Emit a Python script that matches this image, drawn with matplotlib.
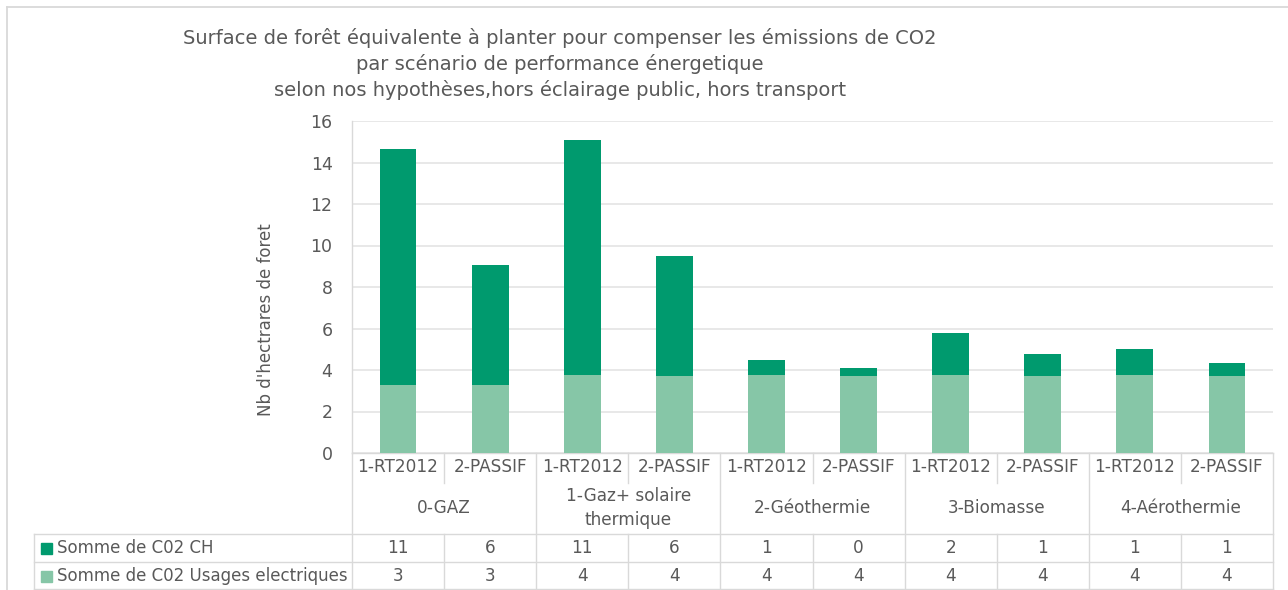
import matplotlib
matplotlib.use("Agg")
import matplotlib.pyplot as plt
from matplotlib.transforms import blended_transform_factory
from matplotlib.patches import Rectangle
from matplotlib.lines import Line2D

# ---- data -------------------------------------------------------------
groups = ["0-GAZ", "1-Gaz+ solaire\nthermique", "2-Géothermie", "3-Biomasse", "4-Aérothermie"]
scenarios = ["1-RT2012", "2-PASSIF"]
co2_ch = [11.38, 5.81, 11.35, 5.81, 0.75, 0.40, 2.04, 1.08, 1.27, 0.64]
co2_elec = [3.26, 3.26, 3.74, 3.69, 3.74, 3.69, 3.74, 3.69, 3.74, 3.69]
series_names = ["Somme de C02 CH", "Somme de C02 Usages electriques"]
y_ticks = [0, 2, 4, 6, 8, 10, 12, 14, 16]
y_label = "Nb d'hectrares de foret"
title_lines = [
    "Surface de forêt équivalente à planter pour compenser les émissions de CO2",
    "par scénario de performance énergetique",
    "selon nos hypothèses,hors éclairage public, hors transport",
]

# ---- style ------------------------------------------------------------
DARK = "#009A6E"
LIGHT = "#86C6A7"
TXT = "#595959"
LINE = "#D9D9D9"
GRID = "#E6E6E6"
plt.rcParams["font.family"] = ["DejaVu Sans"]

W, H = 1288, 590


def fx(p):
    return p / W


def fy(p):
    return 1 - p / H


fig = plt.figure(figsize=(W / 100, H / 100), dpi=100)
fig.patch.set_facecolor("white")

ax_left, ax_right, ax_top, ax_bottom = 352, 1273, 121, 453
ax = fig.add_axes([fx(ax_left), fy(ax_bottom), (ax_right - ax_left) / W, (ax_bottom - ax_top) / H])

x = list(range(len(co2_ch)))
ax.bar(x, co2_elec, width=0.4, color=LIGHT, zorder=3)
ax.bar(x, co2_ch, bottom=co2_elec, width=0.4, color=DARK, zorder=3)

ax.set_xlim(-0.5, len(x) - 0.5)
ax.set_ylim(0, 16)
ax.set_yticks(y_ticks)
ax.set_xticks([])
ax.yaxis.grid(True, color=GRID, lw=1.3, zorder=0)
ax.set_axisbelow(True)
for s in ("top", "right"):
    ax.spines[s].set_visible(False)
for s in ("left", "bottom"):
    ax.spines[s].set_color(LINE)
    ax.spines[s].set_linewidth(1.0)
ax.tick_params(axis="y", length=0, pad=14, labelsize=12.5, labelcolor=TXT)

fig.text(fx(266), fy(320), y_label, rotation=90, ha="center", va="center",
         fontsize=12, color=TXT)

# ---- title ------------------------------------------------------------
for i, line in enumerate(title_lines):
    fig.text(fx(560), fy(44 + 26 * i), line, ha="center", va="baseline",
             fontsize=14, color=TXT)

# ---- data table under the axis -----------------------------------------
tr = blended_transform_factory(ax.transData, fig.transFigure)
n = len(x)
FS = 12.2

# scenario labels and group labels
for i in x:
    ax.text(i, fy(467), scenarios[i % 2], transform=tr, ha="center", va="center",
            fontsize=FS, color=TXT)
for g, name in enumerate(groups):
    ax.text(2 * g + 0.5, fy(508), name, transform=tr, ha="center", va="center",
            fontsize=FS, color=TXT, linespacing=1.4)

# row values
rows_y = [548, 576]
for row, vals in zip(rows_y, [co2_ch, co2_elec]):
    for i, v in zip(x, vals):
        ax.text(i, fy(row), f"{v:.0f}", transform=tr, ha="center", va="center",
                fontsize=FS, color=TXT)

# row headers with colour keys
for row, name, col in zip(rows_y, series_names, [DARK, LIGHT]):
    fig.patches.append(Rectangle((fx(41), fy(row + 5.5)), 11 / W, 11 / H,
                                 transform=fig.transFigure, color=col))
    fig.text(fx(57), fy(row), name, ha="left", va="center", fontsize=12, color=TXT)


# table grid
def hline(y, x0, x1):
    fig.add_artist(Line2D([fx(x0), fx(x1)], [fy(y), fy(y)], color=LINE, lw=1.0,
                          transform=fig.transFigure))


def vline_data(xd, y0, y1):
    fig.add_artist(Line2D([xd, xd], [fy(y0), fy(y1)], color=LINE, lw=1.0, transform=tr))


for y in (534, 562, 589):
    hline(y, 34, ax_right)
for k in range(n + 1):
    b = k - 0.5
    if k % 2 == 0:
        vline_data(b, ax_bottom, 590)
    else:
        vline_data(b, ax_bottom, 483)
        vline_data(b, 534, 590)
fig.add_artist(Line2D([fx(34), fx(34)], [fy(534), fy(590)], color=LINE, lw=1.0,
                      transform=fig.transFigure))

# outer frame
fig.add_artist(Line2D([fx(7), fx(W)], [fy(7), fy(7)], color=LINE, lw=1.3,
                      transform=fig.transFigure))
fig.add_artist(Line2D([fx(7), fx(7)], [fy(7), fy(H)], color=LINE, lw=1.3,
                      transform=fig.transFigure))

fig.savefig("out.png", dpi=100, facecolor="white")
